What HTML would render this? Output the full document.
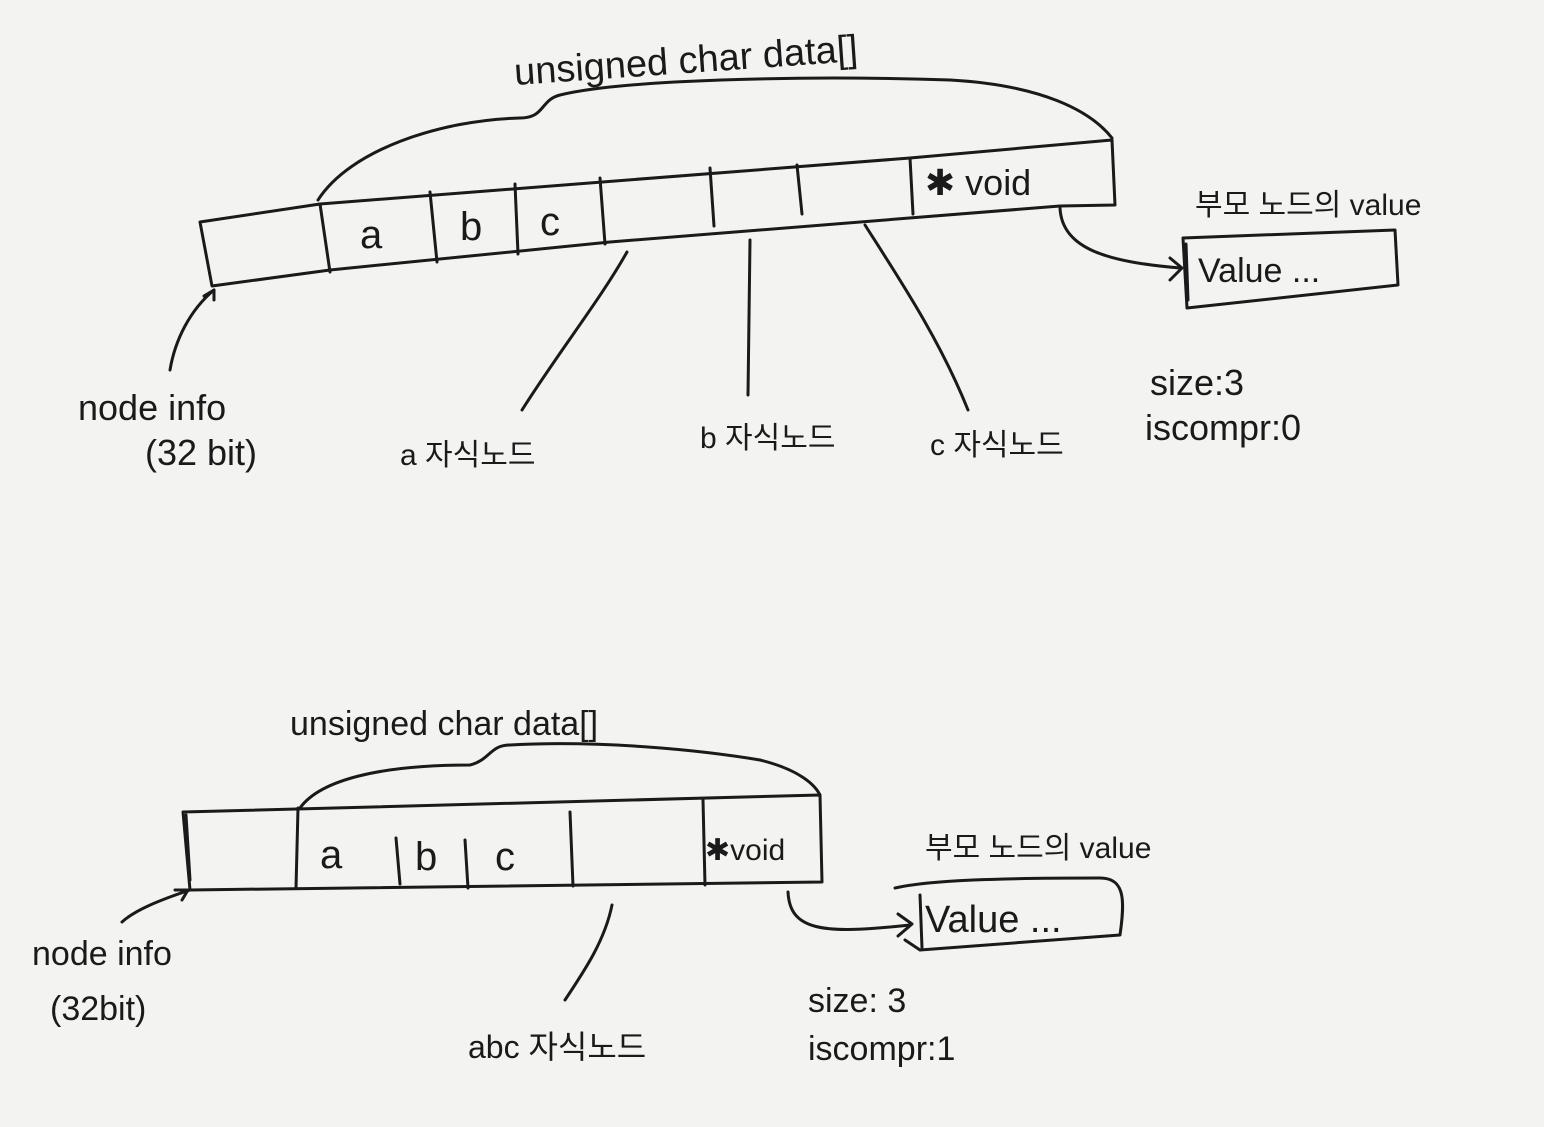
<!DOCTYPE html>
<html><head><meta charset="utf-8">
<style>
html,body{margin:0;padding:0;background:#f3f3f1;}
svg{display:block}
text{font-family:"Liberation Sans","Noto Sans CJK KR",sans-serif;fill:#1a1a1a;}
</style></head><body>
<svg width="1544" height="1127" viewBox="0 0 1544 1127" xmlns="http://www.w3.org/2000/svg">
<rect width="1544" height="1127" fill="#f3f3f1"/>
<g fill="none" stroke="#1a1a1a" stroke-width="3" stroke-linecap="round" stroke-linejoin="round">
<!-- top diagram array -->
<path d="M200 222 L320 204 L910 158 L1112 140 L1115 205 L1060 206 L610 242 L330 270 L212 286 Z"/>
<path d="M320 204 L330 272"/>
<path d="M430 192 L437 262"/>
<path d="M515 184 L518 254"/>
<path d="M600 178 L605 244"/>
<path d="M710 168 L714 226"/>
<path d="M797 165 L802 214"/>
<path d="M910 158 L913 214"/>
<!-- brace -->
<path d="M318 200 C350 150 440 120 520 118 C545 118 540 100 560 95 C620 80 800 75 950 80 C1040 85 1090 110 1112 138"/>
<!-- leader lines -->
<path d="M214 290 C190 310 175 340 170 370"/>
<path d="M214 290 L204 296 M214 290 L214 300"/>
<path d="M627 252 C600 300 560 350 522 410"/>
<path d="M750 240 L748 395"/>
<path d="M865 225 C900 280 940 340 968 410"/>
<path d="M1060 208 C1062 250 1110 262 1180 268"/>
<path d="M1170 258 L1182 268 L1170 280"/>
<!-- value box -->
<path d="M1183 238 L1395 230 L1398 285 L1187 308 Z"/>
<path d="M1186 244 L1188 300"/>
<!-- bottom diagram -->
<path d="M183 812 L820 795 L822 882 L190 890 Z"/>
<path d="M186 815 L190 880"/>
<path d="M298 808 L296 888"/>
<path d="M396 838 L400 884"/>
<path d="M465 840 L468 888"/>
<path d="M570 812 L573 886"/>
<path d="M703 800 L705 885"/>
<path d="M300 808 C320 780 380 765 470 765 C490 760 490 745 510 745 C600 740 700 750 760 760 C800 770 815 785 820 795"/>
<path d="M190 890 C160 900 135 910 122 922"/>
<path d="M175 890 L188 890 L182 900"/>
<path d="M612 905 C605 940 585 970 565 1000"/>
<path d="M788 892 C790 930 820 935 910 925"/>
<path d="M898 914 L912 924 L898 936"/>
<path d="M895 888 C930 880 1000 878 1100 878 C1125 878 1125 900 1120 935 L920 950 L905 940"/>
<path d="M920 895 L922 948"/>
</g>
<g font-size="40">
<text x="360" y="248">a</text>
<text x="460" y="240">b</text>
<text x="540" y="235">c</text>
<text x="925" y="195" font-size="36">✱ void</text>
<text x="320" y="868">a</text>
<text x="415" y="870">b</text>
<text x="495" y="870">c</text>
<text x="705" y="860" font-size="30">✱void</text>
</g>
<g font-size="38">
<text x="515" y="85" transform="rotate(-4 515 85)">unsigned char data[]</text>
<text x="290" y="735" font-size="34">unsigned char data[]</text>
<text x="1198" y="282" font-size="34">Value ...</text>
<text x="925" y="932">Value ...</text>
<text x="78" y="420" font-size="36">node  info</text>
<text x="145" y="465" font-size="36">(32 bit)</text>
<text x="32" y="965" font-size="34">node info</text>
<text x="50" y="1020" font-size="34">(32bit)</text>
<text x="400" y="465" font-size="30">a 자식노드</text>
<text x="700" y="448" font-size="30">b 자식노드</text>
<text x="930" y="455" font-size="30">c 자식노드</text>
<text x="468" y="1058" font-size="32">abc 자식노드</text>
<text x="1195" y="215" font-size="30">부모 노드의 value</text>
<text x="925" y="858" font-size="30">부모 노드의 value</text>
<text x="1150" y="395" font-size="36">size:3</text>
<text x="1145" y="440" font-size="36">iscompr:0</text>
<text x="808" y="1012" font-size="34">size: 3</text>
<text x="808" y="1060" font-size="34">iscompr:1</text>
</g>
</svg>
</body></html>
